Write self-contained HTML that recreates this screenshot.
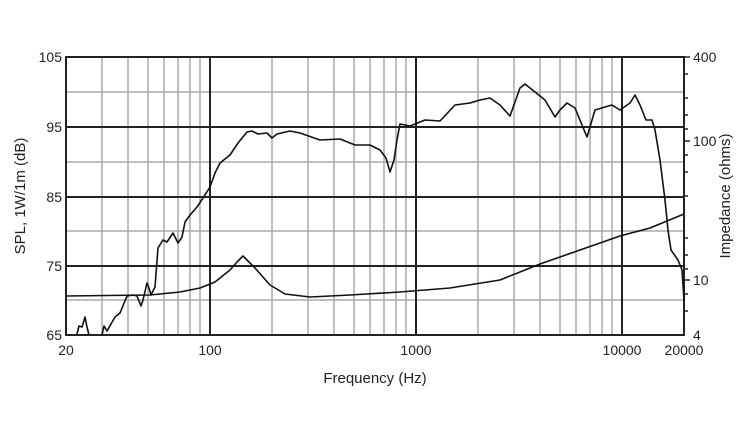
<!DOCTYPE html>
<html><head><meta charset="utf-8"><style>html,body{margin:0;background:#fff}</style></head><body>
<svg width="750" height="422" xmlns="http://www.w3.org/2000/svg" font-family="Liberation Sans, sans-serif" font-size="14" fill="#222">
<g stroke="#aaa" stroke-width="1.5">
<line x1="102" y1="57" x2="102" y2="335"/><line x1="128" y1="57" x2="128" y2="335"/><line x1="148" y1="57" x2="148" y2="335"/><line x1="164" y1="57" x2="164" y2="335"/><line x1="178" y1="57" x2="178" y2="335"/><line x1="190" y1="57" x2="190" y2="335"/><line x1="200" y1="57" x2="200" y2="335"/>
<line x1="272" y1="57" x2="272" y2="335"/><line x1="308" y1="57" x2="308" y2="335"/><line x1="334" y1="57" x2="334" y2="335"/><line x1="354" y1="57" x2="354" y2="335"/><line x1="370" y1="57" x2="370" y2="335"/><line x1="384" y1="57" x2="384" y2="335"/><line x1="396" y1="57" x2="396" y2="335"/><line x1="406" y1="57" x2="406" y2="335"/>
<line x1="478" y1="57" x2="478" y2="335"/><line x1="514" y1="57" x2="514" y2="335"/><line x1="540" y1="57" x2="540" y2="335"/><line x1="560" y1="57" x2="560" y2="335"/><line x1="576" y1="57" x2="576" y2="335"/><line x1="590" y1="57" x2="590" y2="335"/><line x1="602" y1="57" x2="602" y2="335"/><line x1="612" y1="57" x2="612" y2="335"/>
<line x1="66" y1="92" x2="684" y2="92"/><line x1="66" y1="162" x2="684" y2="162"/><line x1="66" y1="231" x2="684" y2="231"/><line x1="66" y1="300" x2="684" y2="300"/>
</g>
<g stroke="#222" stroke-width="2">
<line x1="210" y1="57" x2="210" y2="335"/><line x1="416" y1="57" x2="416" y2="335"/><line x1="622" y1="57" x2="622" y2="335"/>
<line x1="66" y1="127" x2="684" y2="127"/><line x1="66" y1="197" x2="684" y2="197"/><line x1="66" y1="266" x2="684" y2="266"/>
<rect x="66" y="57" width="618" height="278" fill="none"/>
</g>
<g stroke="#222" stroke-width="1.5">
<line x1="684" y1="57" x2="690" y2="57"/><line x1="684" y1="74" x2="688" y2="74"/><line x1="684" y1="98" x2="688" y2="98"/><line x1="684" y1="115" x2="688" y2="115"/><line x1="684" y1="129" x2="688" y2="129"/><line x1="684" y1="141" x2="690" y2="141"/><line x1="684" y1="155" x2="688" y2="155"/><line x1="684" y1="172" x2="688" y2="172"/><line x1="684" y1="196" x2="688" y2="196"/><line x1="684" y1="238" x2="688" y2="238"/><line x1="684" y1="255" x2="688" y2="255"/><line x1="684" y1="269" x2="688" y2="269"/><line x1="684" y1="280" x2="690" y2="280"/><line x1="684" y1="294" x2="688" y2="294"/><line x1="684" y1="311" x2="688" y2="311"/>
</g>
<g fill="none" stroke="#111" stroke-width="1.6" stroke-linejoin="round">
<polyline points="76.7,335 79,326 82,327 85,317 87,327 89,335"/>
<polyline points="102,335 104,326 107,331 115,317 120,313 127,296 133,295 137,296 141,306 143,300 147,283 149,288 151,295 155,287 158,248 163,240 167,242 173,233 178,243 182,237 185,222 190,215 197,207 203,198 210,187 215,173 220,163 230,155 238,143 247,132 252,131 258,134 267,133 272,138 277,134 290,131 300,133 320,140 340,139 355,145 370,145 380,150 386,158 390,172 394,160 397,140 400,124 410,126 425,120 440,121 455,105 470,103 480,100 490,98 500,105 510,116 520,88 525,84 535,92 545,100 555,117 560,110 567,103 575,108 582,125 587,137 595,110 605,107 612,105 620,110 630,103 635,95 640,105 646,120 652,120 655,130 660,160 665,200 668,230 671,250 678,260 682,270 684,300"/>
<polyline points="66,296 150,295 180,292 200,288 215,282 230,270 238,261 243,256 248,261 255,268 270,285 285,294 310,297 350,295 400,292 450,288 500,280 540,264 580,250 620,236 650,228 684,214"/>
</g>
<g text-anchor="end"><text x="62" y="62">105</text><text x="62" y="132">95</text><text x="62" y="202">85</text><text x="62" y="271">75</text><text x="62" y="340">65</text></g>
<text x="693" y="62">400</text><text x="693" y="146">100</text><text x="693" y="285">10</text><text x="693" y="340">4</text>
<g text-anchor="middle"><text x="66" y="355">20</text><text x="210" y="355">100</text><text x="416" y="355">1000</text><text x="622" y="355">10000</text><text x="684" y="355">20000</text>
<text x="375" y="383" font-size="15">Frequency (Hz)</text>
<text transform="translate(25,196) rotate(-90)" font-size="15">SPL, 1W/1m (dB)</text>
<text transform="translate(730,196) rotate(-90)" font-size="15">Impedance (ohms)</text></g>
</svg>
</body></html>
